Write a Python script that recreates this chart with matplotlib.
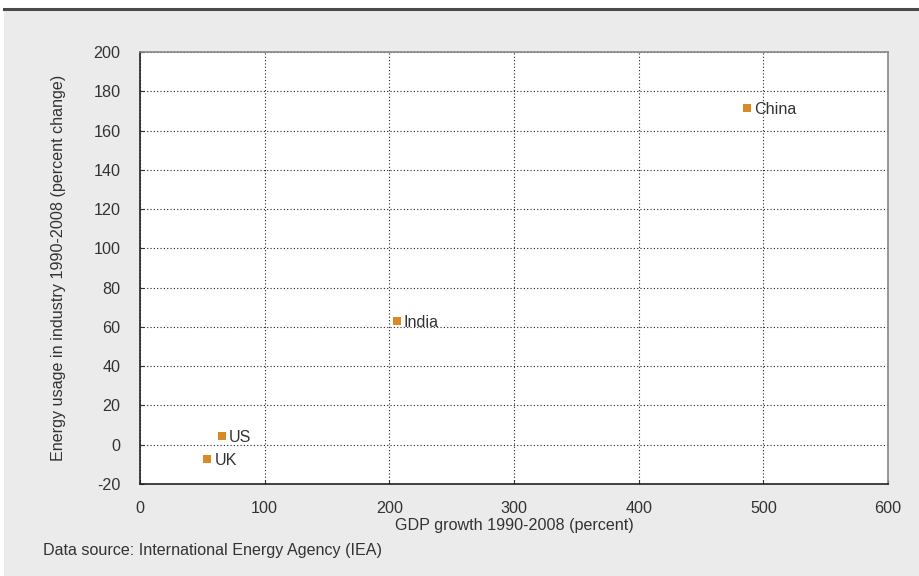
import matplotlib
matplotlib.use('Agg')
import matplotlib.pyplot as plt
from matplotlib.patches import Rectangle
from matplotlib.lines import Line2D

plt.rcParams['font.family'] = ['Liberation Sans', 'DejaVu Sans']
plt.rcParams['axes.unicode_minus'] = False

countries = ['China', 'India', 'US', 'UK']
gdp_growth = [487, 206, 66, 54]
energy_change = [171.5, 63, 4.5, -7.5]

x_ticks = [0, 100, 200, 300, 400, 500, 600]
y_ticks = [-20, 0, 20, 40, 60, 80, 100, 120, 140, 160, 180, 200]

bg = '#ebebeb'
text_col = '#333333'
fs = 11.6

fig = plt.figure(figsize=(9.2, 5.76), dpi=100)
fig.patch.set_facecolor('white')

# grey panel with dark rule on top
fig.patches.append(Rectangle((4 / 920, 0), 1, 1 - 8 / 576, transform=fig.transFigure,
                             facecolor=bg, edgecolor='none', zorder=-5))
fig.lines.append(Line2D([4 / 920, 1], [1 - 8.5 / 576, 1 - 8.5 / 576], transform=fig.transFigure,
                        color='#4a4a4a', linewidth=2.2, zorder=-4))

ax = fig.add_axes([140 / 920, 1 - 484 / 576, 748 / 920, 432 / 576])
ax.set_zorder(2)
ax.set_facecolor('white')

ax.scatter(gdp_growth, energy_change, marker='s', s=36, color='#d98a27', zorder=3, linewidths=0)
for name, x, y in zip(countries, gdp_growth, energy_change):
    ax.annotate(name, (x, y), xytext=(5, -1), textcoords='offset points',
                va='center', ha='left', fontsize=fs, color=text_col)

ax.set_xlim(0, 600)
ax.set_ylim(-20, 200)
ax.set_xticks(x_ticks)
ax.set_yticks(y_ticks)
ax.grid(True, color='#222222', linestyle=(0, (1, 2)), linewidth=0.8)
ax.set_axisbelow(True)
ax.tick_params(axis='both', direction='in', length=3, labelsize=fs,
               labelcolor=text_col, color='#333333')
ax.tick_params(axis='y', pad=14)
ax.tick_params(axis='x', pad=12)

for side in ['top', 'right']:
    ax.spines[side].set_color('#888888')
    ax.spines[side].set_linewidth(1.2)
for side in ['left', 'bottom']:
    ax.spines[side].set_color('#222222')
    ax.spines[side].set_linewidth(1.2)

ax.set_xlabel('GDP growth 1990-2008 (percent)', fontsize=fs, color=text_col, labelpad=2)
ax.set_ylabel('Energy usage in industry 1990-2008 (percent change)', fontsize=fs,
              color=text_col, labelpad=20)

fig.text(43 / 920, 1 - 551 / 576, 'Data source: International Energy Agency (IEA)',
         fontsize=fs, color=text_col, va='center', ha='left')

fig.savefig('out.png', dpi=100, facecolor=fig.get_facecolor())
